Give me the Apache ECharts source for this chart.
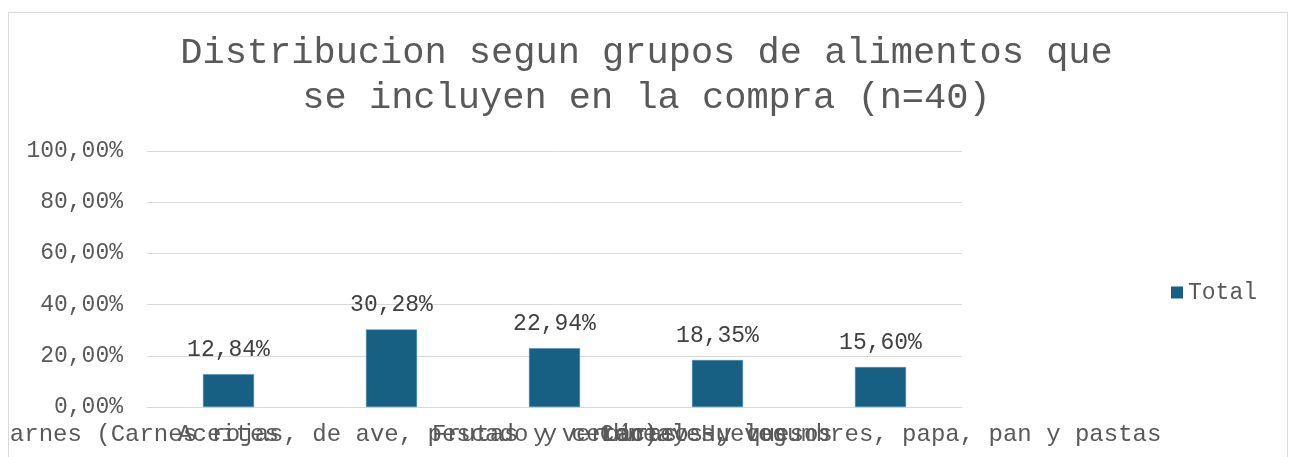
<!DOCTYPE html>
<html>
<head>
<meta charset="utf-8">
<script src="https://cdn.jsdelivr.net/npm/echarts@6/dist/echarts.min.js"></script>
<style>html,body{margin:0;padding:0;background:#fff}#c{width:1293px;height:457px}</style>
</head>
<body>
<div id="c"></div>
<script>
const titleText = "Distribucion segun grupos de alimentos que\nse incluyen en la compra (n=40)";
const categories = [
  "Aceites",
  "Carnes (Carnes rojas, de ave, pescado y cerdo) y Huevos",
  "Frutas y verduras",
  "Lácteos y quesos",
  "Cereales, legumbres, papa, pan y pastas"
];
const seriesName = "Total";
const totalValues = [12.84, 30.28, 22.94, 18.35, 15.60];
const yTicks = [0, 20, 40, 60, 80, 100];

const fmt = v => v.toFixed(2).replace('.', ',') + '%';
const FONT = '"Liberation Mono", "Courier New", monospace';

const chart = echarts.init(document.getElementById('c'), null, {renderer: 'canvas'});
chart.setOption({
  backgroundColor: '#fff',
  animation: false,
  textStyle: {fontFamily: FONT},
  graphic: [
    {
      type: 'rect', left: 8, top: 12, z: -1,
      shape: {width: 1279, height: 470},
      style: {fill: '#fff', stroke: '#d9d9d9', lineWidth: 1}
    },
    {
      type: 'rect', left: 0, top: 400, z: 100,
      shape: {width: 8, height: 57},
      style: {fill: '#fff'}
    },
    {
      type: 'line', z: 101,
      shape: {x1: 8.5, y1: 400, x2: 8.5, y2: 457},
      style: {stroke: '#d9d9d9', lineWidth: 1}
    }
  ],
  title: {
    text: titleText,
    left: 'center',
    top: 26,
    textStyle: {fontFamily: FONT, fontSize: 37, fontWeight: 'normal', color: '#595959', lineHeight: 45}
  },
  legend: {
    data: [seriesName],
    left: 1171, top: 281, padding: 0,
    icon: 'rect', itemWidth: 12, itemHeight: 12, itemGap: 8,
    itemStyle: {borderWidth: 0},
    textStyle: {fontFamily: FONT, fontSize: 23, color: '#595959'}
  },
  grid: {left: 147, right: 331, top: 151, bottom: 50, containLabel: false, outerBoundsMode: 'none'},
  xAxis: {
    type: 'category',
    data: categories,
    axisTick: {show: false},
    axisLine: {lineStyle: {color: '#d9d9d9', width: 1}},
    axisLabel: {interval: 0, margin: 16, fontFamily: FONT, fontSize: 24, color: '#595959', hideOverlap: false}
  },
  yAxis: {
    type: 'value',
    min: yTicks[0], max: yTicks[yTicks.length - 1], interval: 20,
    axisLine: {show: false},
    axisTick: {show: false},
    splitLine: {lineStyle: {color: '#d9d9d9', width: 1}},
    axisLabel: {margin: 24, fontFamily: FONT, fontSize: 23, color: '#595959', formatter: v => fmt(v)}
  },
  series: [{
    name: seriesName,
    type: 'bar',
    data: totalValues,
    barWidth: 51,
    itemStyle: {color: '#176083', borderColor: '#4a8ab0', borderWidth: 0.5},
    label: {
      show: true, position: 'top', distance: 13,
      fontFamily: FONT, fontSize: 23, color: '#404040',
      formatter: p => fmt(p.value)
    }
  }]
});
</script>
</body>
</html>
